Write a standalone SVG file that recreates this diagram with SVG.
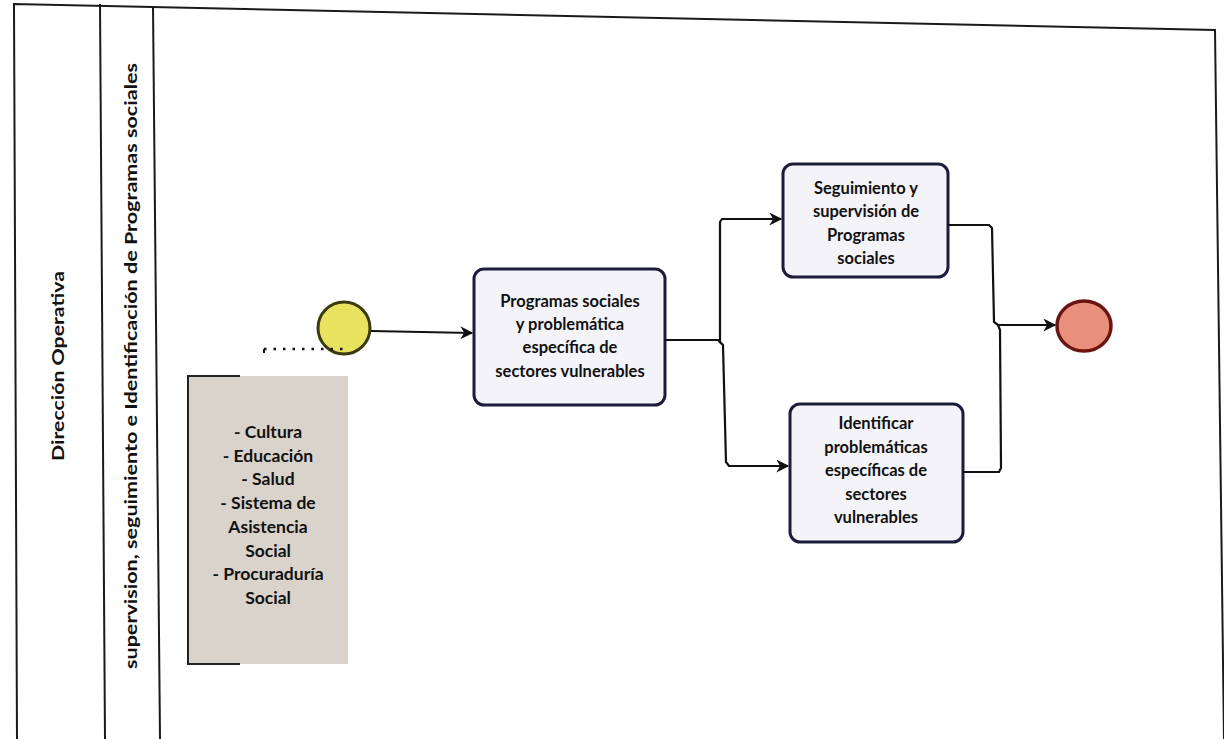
<svg xmlns="http://www.w3.org/2000/svg" width="1224" height="739" viewBox="0 0 1224 739">
<style>
.frame{fill:none;stroke:#1a1a1a;stroke-width:2}
.lane{font-family:Lato,"Noto Sans","Liberation Sans",sans-serif;font-weight:700;font-size:17px;fill:#111}
.task{fill:#f4f3f8;stroke:#1c1c3c;stroke-width:3}
.t{font-family:Lato,"Noto Sans","Liberation Sans",sans-serif;font-weight:700;font-size:16.5px;fill:#111;text-anchor:middle}
.a{font-size:17.5px}
.c{fill:none;stroke:#111;stroke-width:2.2}
</style>
<defs>
<marker id="ah" viewBox="0 0 10 10" refX="9" refY="5" markerWidth="14" markerHeight="13" markerUnits="userSpaceOnUse" orient="auto">
<path d="M0,0 L10,5 L0,10 L3,5 Z" fill="#111"/>
</marker>
</defs>
<rect width="1224" height="739" fill="#ffffff"/>
<g id="pool">
<path class="frame" d="M17,739 L14,4 L1215,30 L1224,739"/>
<path class="frame" d="M100,4 L105,739"/>
<path class="frame" d="M153,6 L160,739"/>
<text class="lane" transform="translate(64,366) rotate(-90)" text-anchor="middle" textLength="190" lengthAdjust="spacingAndGlyphs">Dirección Operativa</text>
<text class="lane" transform="translate(137,366) rotate(-90)" text-anchor="middle" textLength="606" lengthAdjust="spacingAndGlyphs">supervision, seguimiento e Identificación de Programas sociales</text>
</g>
<g id="annotation">
<rect x="188" y="376" width="160" height="288" fill="#d9d3cb"/>
<path d="M240,376 L188,376 L188,664 L240,664" fill="none" stroke="#222" stroke-width="2"/>
<text class="t a" x="268" y="438">- Cultura</text>
<text class="t a" x="268" y="462">- Educación</text>
<text class="t a" x="268" y="485">- Salud</text>
<text class="t a" x="268" y="509">- Sistema de</text>
<text class="t a" x="268" y="533">Asistencia</text>
<text class="t a" x="268" y="557">Social</text>
<text class="t a" x="268" y="580">- Procuraduría</text>
<text class="t a" x="268" y="604">Social</text>
</g>
<g id="start">
<circle cx="344" cy="328" r="26" fill="#e9e25e" stroke="#3b3a12" stroke-width="3"/>
</g>
<g id="task1">
<rect class="task" x="474" y="269" width="191" height="136" rx="10"/>
<text class="t" x="570" y="307">Programas sociales</text>
<text class="t" x="570" y="330">y problemática</text>
<text class="t" x="570" y="353">específica de</text>
<text class="t" x="570" y="377">sectores vulnerables</text>
</g>
<g id="task2">
<rect class="task" x="783" y="164" width="165" height="113" rx="10"/>
<text class="t" x="866" y="194">Seguimiento y</text>
<text class="t" x="866" y="217">supervisión de</text>
<text class="t" x="866" y="241">Programas</text>
<text class="t" x="866" y="264">sociales</text>
</g>
<g id="task3">
<rect class="task" x="790" y="404" width="173" height="138" rx="10"/>
<text class="t" x="876" y="429">Identificar</text>
<text class="t" x="876" y="453">problemáticas</text>
<text class="t" x="876" y="476">específicas de</text>
<text class="t" x="876" y="500">sectores</text>
<text class="t" x="876" y="523">vulnerables</text>
</g>
<g id="end">
<ellipse cx="1084" cy="326" rx="27" ry="25" fill="#e9907c" stroke="#6b1512" stroke-width="3.5"/>
</g>
<g id="connectors">
<path class="c" d="M371,331 L472,333" marker-end="url(#ah)"/>
<path d="M264,353 L264,349" stroke="#111" stroke-width="2" fill="none"/>
<path d="M264,349 L346,349" stroke="#111" stroke-width="2.5" fill="none" stroke-dasharray="2.5,7"/>
<path class="c" d="M665,340 L718,340 L720,342 L720,222 L722,219 L781,219" marker-end="url(#ah)"/>
<path class="c" d="M720,342 L723,345 L726,462 L729,466 L788,466" marker-end="url(#ah)"/>
<path class="c" d="M948,225 L989,225 L992,228 L994,322 L998,325 M963,472 L999,472 L1001,468 L1000,330 L998,325 L1055,325" marker-end="url(#ah)"/>
</g>
</svg>
